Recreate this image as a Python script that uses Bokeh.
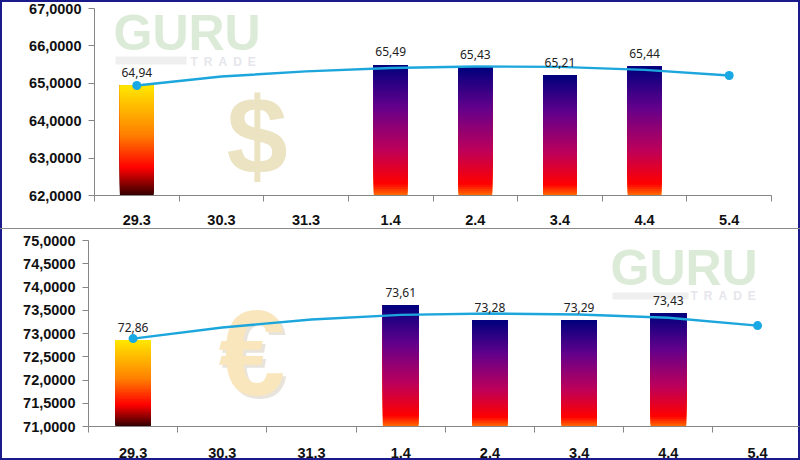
import numpy as np
from bokeh.core.properties import value
from bokeh.embed import file_html
from bokeh.resources import INLINE
from bokeh.layouts import column
from bokeh.models import FixedTicker, BoxAnnotation, Range1d
from bokeh.plotting import figure

categories = ["29.3", "30.3", "31.3", "1.4", "2.4", "3.4", "4.4", "5.4"]

usd_bars = [64.94, None, None, 65.49, 65.43, 65.21, 65.44, None]
usd_labels = ["64,94", None, None, "65,49", "65,43", "65,21", "65,44", None]
usd_trend = [64.94, 65.18, 65.32, 65.41, 65.45, 65.44, 65.36, 65.21]
usd_ticks = [62, 63, 64, 65, 66, 67]
usd_tick_labels = ["62,0000", "63,0000", "64,0000", "65,0000", "66,0000", "67,0000"]

eur_bars = [72.86, None, None, 73.61, 73.28, 73.29, 73.43, None]
eur_labels = ["72,86", None, None, "73,61", "73,28", "73,29", "73,43", None]
eur_trend = [72.89, 73.13, 73.30, 73.40, 73.43, 73.41, 73.34, 73.17]
eur_ticks = [71, 71.5, 72, 72.5, 73, 73.5, 74, 74.5, 75]
eur_tick_labels = ["71,0000", "71,5000", "72,0000", "72,5000", "73,0000", "73,5000", "74,0000", "74,5000", "75,0000"]

WARM = [(0, (48, 0, 0)), (.25, (255, 0, 0)), (.55, (255, 128, 0)), (1, (255, 232, 0))]
COOL = [(0, (255, 112, 0)), (.09, (255, 0, 0)), (.35, (190, 0, 90)), (.68, (100, 0, 140)), (1, (0, 0, 125))]
AXIS = "#868686"
LINE = "#1CA6DC"


def gradient_bar(p, i, v, ymin, stops, n=60):
    """One bar, painted bottom-up as n overlapping strips that all reach the bar's top."""
    edges = np.linspace(ymin, v, n + 1)[:-1]
    mids = (np.arange(n) + .5) / n
    xs = [s[0] for s in stops]
    rgb = [np.interp(mids, xs, [s[1][c] for s in stops]).astype(int) for c in range(3)]
    colors = ["#%02x%02x%02x" % (r, g, b) for r, g, b in zip(*rgb)]
    p.quad(left=i + .3, right=i + .7, bottom=edges, top=v, fill_color=colors, line_color=None)


def chart(bars, labels, trend, ticks, tick_labels, ymin, ymax, xend, height, left, right, top, bottom, standoff):
    p = figure(width=800, height=height, output_backend="svg", toolbar_location=None,
               x_range=Range1d(0, xend), y_range=Range1d(ymin, ymax), frame_align=False,
               min_border_left=left, min_border_right=right, min_border_top=top, min_border_bottom=bottom,
               outline_line_color=None, border_fill_color=None, background_fill_color=None)
    p.grid.visible = False
    xa, ya = p.xaxis[0], p.yaxis[0]
    xa.ticker = FixedTicker(ticks=[i + .5 for i in range(len(categories))],
                            minor_ticks=list(range(len(categories) + 1)))
    xa.major_label_overrides = {i + .5: c for i, c in enumerate(categories)}
    xa.major_tick_out = 0
    xa.major_tick_in = 0
    xa.minor_tick_out = 6
    xa.minor_tick_in = 0
    xa.major_label_standoff = standoff
    ya.ticker = FixedTicker(ticks=ticks)
    ya.major_label_overrides = dict(zip(ticks, tick_labels))
    ya.major_tick_out = 6
    ya.major_tick_in = 0
    ya.major_label_standoff = 7
    for a in (xa, ya):
        a.axis_line_color = AXIS
        a.major_tick_line_color = AXIS
        a.minor_tick_line_color = AXIS if a is xa else None
        a.major_label_text_font = "Liberation Sans"
        a.major_label_text_font_style = "bold"
        a.major_label_text_font_size = "14.5px"
        a.major_label_text_color = "#111111"

    for i, v in enumerate(bars):
        if v is not None:
            gradient_bar(p, i, v, ymin, WARM if i == 0 else COOL)

    xs = [i + .5 for i in range(len(trend))]
    p.line(xs, trend, line_color=LINE, line_width=2.4)
    p.scatter([xs[0], xs[-1]], [trend[0], trend[-1]], size=9, fill_color="#18A8E4", line_color=None)

    lx = [i + .5 for i, v in enumerate(bars) if v is not None]
    ly = [v for v in bars if v is not None]
    lt = [t for t in labels if t is not None]
    p.text(lx, ly, text=lt, text_align="center", text_baseline="middle", y_offset=-13,
           text_font=value("Noto Sans"), text_font_size="12px", text_color="#222222")
    return p


class Place:
    """Turns window pixels into a chart's data units, for the watermarks."""
    def __init__(self, p, fl, ft, fw, fh):
        self.p, self.fl, self.ft, self.fw, self.fh = p, fl, ft, fw, fh
    def x(self, px):
        r = self.p.x_range
        return r.start + (px - self.fl) / self.fw * (r.end - r.start)
    def y(self, py):
        r = self.p.y_range
        return r.end - (py - self.ft) / self.fh * (r.end - r.start)
    def mark(self, px, py, text, size, color):
        self.p.text([self.x(px)], [self.y(py)], text=[text], text_font=value("Liberation Sans"),
                    text_font_size=f"{size}px", text_font_style="bold", text_color=color,
                    text_baseline="top", level="underlay")
    def box(self, l, r, t, b, color):
        self.p.add_layout(BoxAnnotation(left=self.x(l), right=self.x(r), top=self.y(t), bottom=self.y(b),
                                        fill_color=color, fill_alpha=1, line_color=None, level="underlay"))


H1, H2 = 229, 231
top = chart(usd_bars, usd_labels, usd_trend, usd_ticks, usd_tick_labels, 62, 67, 8, H1, 94, 29, 8, 34, 13)
bot = chart(eur_bars, eur_labels, eur_trend, eur_ticks, eur_tick_labels, 71, 75, 7.97, H2, 88, 1, 11, 34, 15)

GREEN, GREY = "#DCEBD8", "#E6E6EC"
TRADE = "T\u2002R\u2002A\u2002D\u2002E"
a = Place(top, 94, 8, 677, 187)
a.mark(113, 4, "GURU", 50, GREEN)
a.mark(190, 54, TRADE, 12, GREY)
a.box(115, 186, 56, 64, "#EFEFEF")
a.mark(226, 73, "$", 110, "#EBE3C2")

b = Place(bot, 88, 240, 711, 186)
b.mark(610, 239, "GURU", 50, GREEN)
b.mark(690, 288, TRADE, 12, GREY)
b.box(612, 688, 292, 299, "#EFEFEF")
b.mark(221, 288, "€", 120, "#E8E4DC")
b.mark(218, 285, "€", 120, "#F9E6BC")

top.styles = {"box-shadow": "inset 0 -1px 0 #8a8a8a"}
page = column(top, bot, spacing=0, width=800, height=460,
              styles={"position": "absolute", "left": "0", "top": "0", "background": "#ffffff",
                      "outline": "2px solid #1A1A8C", "outline-offset": "-2px"})

open("out.html", "w").write(file_html(page, INLINE))
